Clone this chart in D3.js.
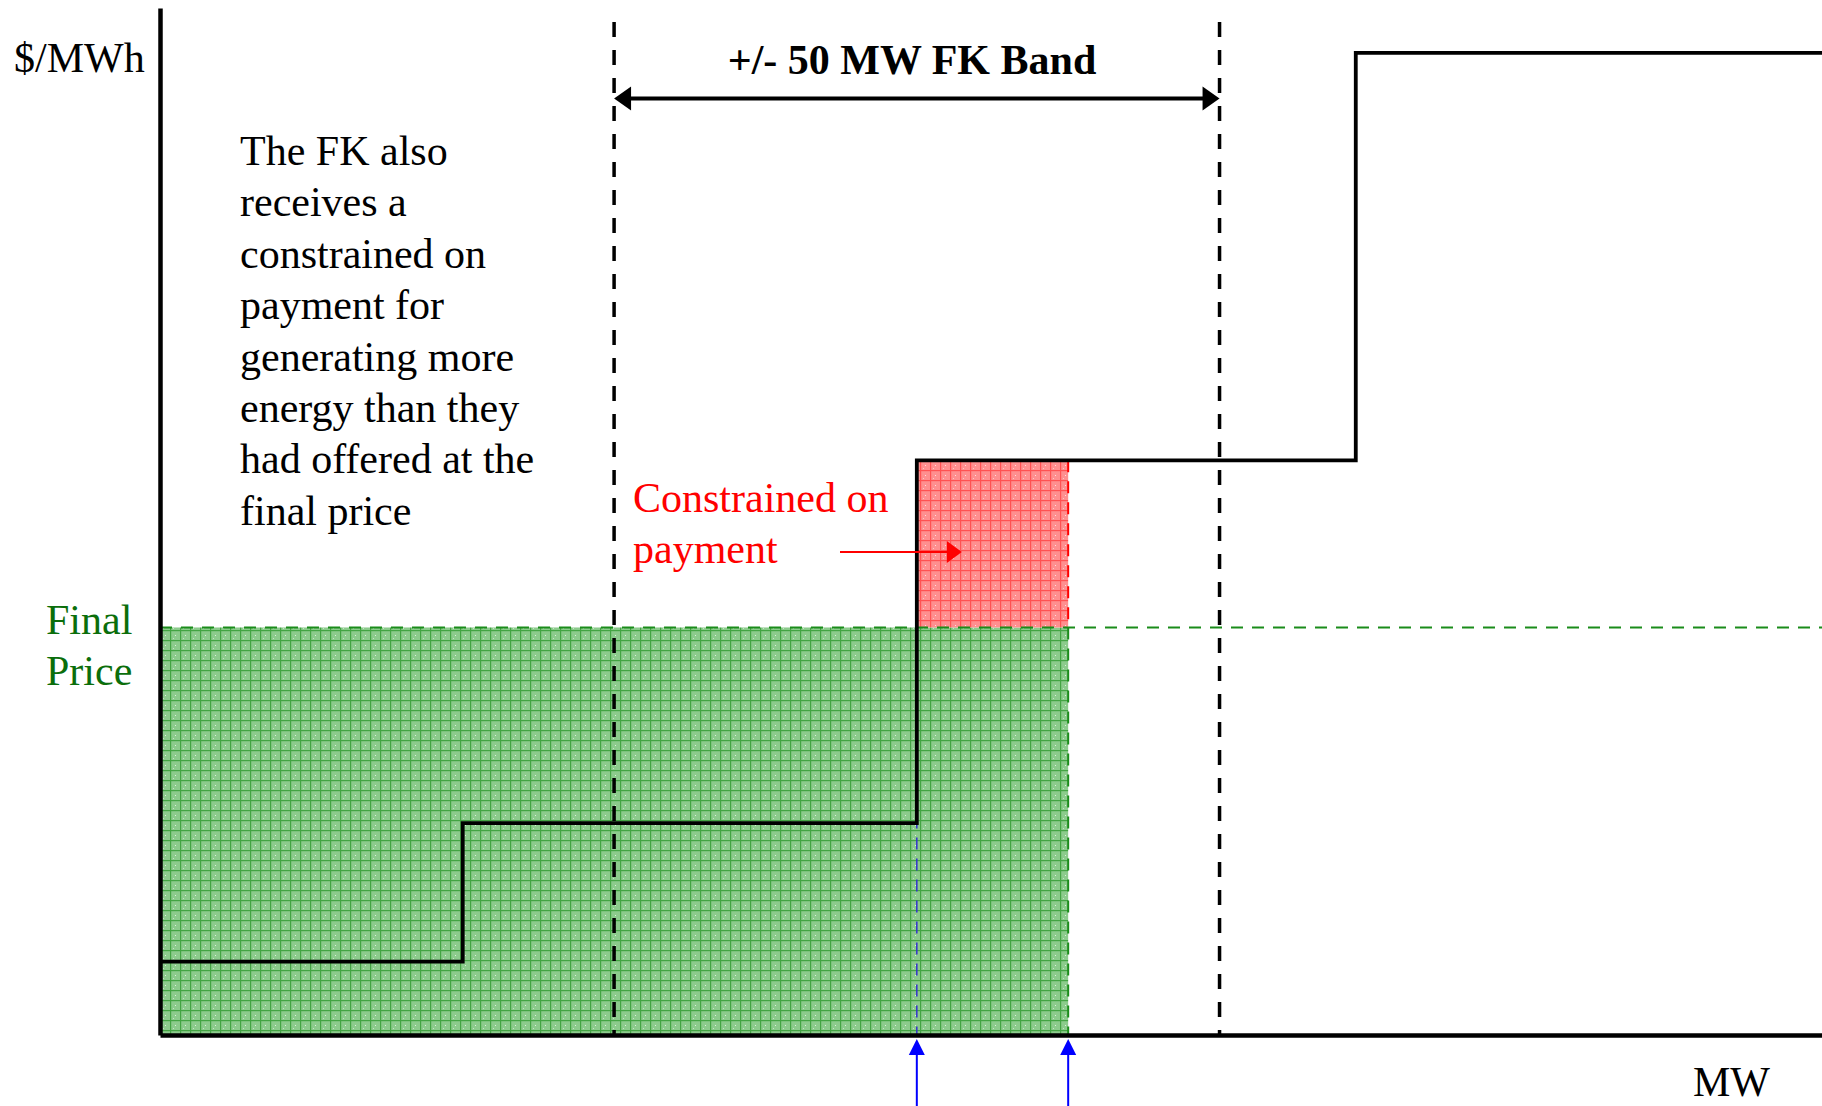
<!DOCTYPE html>
<html>
<head>
<meta charset="utf-8">
<script src="https://cdn.jsdelivr.net/npm/d3@7"></script>
<style>
  html, body { margin: 0; padding: 0; background: #fff; }
  svg { display: block; }
  text { font-family: "Liberation Serif", "Times New Roman", serif; }
</style>
</head>
<body>
<svg></svg>
<script>
// offer curve: breakpoints (MW) and price of each step ($/MWh)
const stepMW = [0, 50, 125, 197.5, 275];
const stepPrice = [9, 26, 70.5, 120.5];
const finalPrice = 50;
const offeredMW = 125;
const dispatchedMW = 150;
const bandMW = [75, 175];
const noteLines = ["The FK also", "receives a", "constrained on", "payment for",
    "generating more", "energy than they", "had offered at the", "final price"];
const redLines = ["Constrained on", "payment"];
const priceLines = ["Final", "Price"];

const W = 1822, H = 1106;
const svg = d3.select("svg")
    .attr("width", W)
    .attr("height", H);

const x = d3.scaleLinear().domain([0, 275]).range([160, 1825]);
const y = d3.scaleLinear().domain([0, 126]).range([1035, 8]);

const defs = svg.append("defs");

function gridPattern(id, base, line) {
    const p = defs.append("pattern")
        .attr("id", id)
        .attr("patternUnits", "userSpaceOnUse")
        .attr("width", 10).attr("height", 10);
    p.append("rect").attr("width", 10).attr("height", 10).attr("fill", base);
    p.append("rect").attr("x", 0).attr("y", 0).attr("width", 1.2).attr("height", 10).attr("fill", line);
    p.append("rect").attr("x", 0).attr("y", 0).attr("width", 10).attr("height", 1.2).attr("fill", line);
    p.append("rect").attr("x", 5).attr("y", 5).attr("width", 1).attr("height", 1).attr("fill", "#fff").attr("opacity", 0.7);
    p.append("rect").attr("x", 3).attr("y", 8).attr("width", 1).attr("height", 1).attr("fill", "#fff").attr("opacity", 0.5);
}
gridPattern("greenGrid", "#8ccb8c", "#43a443");
gridPattern("redGrid", "#ff8f8f", "#ff5252");

// shaded areas
svg.append("rect")
    .attr("x", x(0)).attr("y", y(finalPrice))
    .attr("width", x(dispatchedMW) - x(0))
    .attr("height", y(0) - y(finalPrice))
    .attr("fill", "url(#greenGrid)");

svg.append("rect")
    .attr("x", x(offeredMW)).attr("y", y(stepPrice[2]))
    .attr("width", x(dispatchedMW) - x(offeredMW))
    .attr("height", y(finalPrice) - y(stepPrice[2]))
    .attr("fill", "url(#redGrid)");

// final price line
svg.append("line")
    .attr("x1", x(0)).attr("x2", W)
    .attr("y1", y(finalPrice)).attr("y2", y(finalPrice))
    .attr("stroke", "#1a8c1a").attr("stroke-width", 2)
    .attr("stroke-dasharray", "12,9");

// right edges of the areas
svg.append("line")
    .attr("x1", x(dispatchedMW)).attr("x2", x(dispatchedMW))
    .attr("y1", y(stepPrice[2])).attr("y2", y(finalPrice))
    .attr("stroke", "#ff0000").attr("stroke-width", 2)
    .attr("stroke-dasharray", "12,9");
svg.append("line")
    .attr("x1", x(dispatchedMW)).attr("x2", x(dispatchedMW))
    .attr("y1", y(finalPrice)).attr("y2", y(0))
    .attr("stroke", "#1a8c1a").attr("stroke-width", 2)
    .attr("stroke-dasharray", "12,9");

// blue dashed drop line at offered quantity
svg.append("line")
    .attr("x1", x(offeredMW)).attr("x2", x(offeredMW))
    .attr("y1", y(finalPrice)).attr("y2", y(0))
    .attr("stroke", "#3333cc").attr("stroke-width", 1.5)
    .attr("stroke-dasharray", "12,9");

// band limits
svg.selectAll(".band")
    .data(bandMW)
    .enter()
    .append("line")
    .attr("class", "band")
    .attr("x1", d => x(d)).attr("x2", d => x(d))
    .attr("y1", 22).attr("y2", y(0))
    .attr("stroke", "#000").attr("stroke-width", 3.5)
    .attr("stroke-dasharray", "15,13");

// offer curve
const pts = stepPrice.map((p, i) => [stepMW[i], p]);
pts.push([stepMW[stepMW.length - 1], stepPrice[stepPrice.length - 1]]);
svg.append("path")
    .datum(pts)
    .attr("fill", "none")
    .attr("stroke", "#000")
    .attr("stroke-width", 3.8)
    .attr("d", d3.line().x(d => x(d[0])).y(d => y(d[1])).curve(d3.curveStepAfter));

// axes
svg.append("g")
    .attr("transform", `translate(0,${y(0)})`)
    .call(d3.axisBottom(x).tickValues([]).tickSizeOuter(0))
    .select(".domain").attr("stroke-width", 4.5);
svg.append("g")
    .attr("transform", `translate(${x(0)},0)`)
    .call(d3.axisLeft(y).tickValues([]).tickSizeOuter(0))
    .select(".domain").attr("stroke-width", 4.5);

// band double arrow
const ay = 98.5;
const bx0 = x(bandMW[0]), bx1 = x(bandMW[1]);
svg.append("line")
    .attr("x1", bx0 + 10).attr("x2", bx1 - 10)
    .attr("y1", ay).attr("y2", ay)
    .attr("stroke", "#000").attr("stroke-width", 4);
svg.append("path")
    .attr("d", `M${bx0},${ay} L${bx0 + 17},${ay - 12} L${bx0 + 17},${ay + 12} Z`)
    .attr("fill", "#000");
svg.append("path")
    .attr("d", `M${bx1},${ay} L${bx1 - 17},${ay - 12} L${bx1 - 17},${ay + 12} Z`)
    .attr("fill", "#000");

// blue arrows up to the x axis
svg.selectAll(".qArrow")
    .data([offeredMW, dispatchedMW])
    .enter()
    .append("g")
    .attr("class", "qArrow")
    .each(function(d) {
        const g = d3.select(this);
        const tipY = y(0) + 4;
        g.append("line")
            .attr("x1", x(d)).attr("x2", x(d))
            .attr("y1", tipY + 10).attr("y2", H)
            .attr("stroke", "#0000ff").attr("stroke-width", 2);
        g.append("path")
            .attr("d", `M${x(d)},${tipY} L${x(d) - 8},${tipY + 16} L${x(d) + 8},${tipY + 16} Z`)
            .attr("fill", "#0000ff");
    });

// red arrow into the constrained-on area
const ry = 552;
svg.append("line")
    .attr("x1", 840).attr("x2", x(offeredMW) + 35)
    .attr("y1", ry).attr("y2", ry)
    .attr("stroke", "#ff0000").attr("stroke-width", 2);
svg.append("path")
    .attr("d", `M${x(offeredMW) + 45},${ry} L${x(offeredMW) + 30},${ry - 11} L${x(offeredMW) + 30},${ry + 11} Z`)
    .attr("fill", "#ff0000");

// texts
svg.append("text")
    .attr("x", 14).attr("y", 72)
    .attr("font-size", 42)
    .text("$/MWh");

svg.append("text")
    .attr("x", 912).attr("y", 74)
    .attr("text-anchor", "middle")
    .attr("font-size", 42)
    .attr("font-weight", "bold")
    .text("+/- 50 MW FK Band");

svg.append("g")
    .selectAll("text")
    .data(noteLines)
    .enter()
    .append("text")
    .attr("x", 240)
    .attr("y", (d, i) => 165 + i * 51.4)
    .attr("font-size", 42)
    .text(d => d);

svg.append("g")
    .selectAll("text")
    .data(redLines)
    .enter()
    .append("text")
    .attr("x", 633)
    .attr("y", (d, i) => 512 + i * 51.4)
    .attr("font-size", 42)
    .attr("fill", "#ff0000")
    .text(d => d);

svg.append("g")
    .selectAll("text")
    .data(priceLines)
    .enter()
    .append("text")
    .attr("x", 46)
    .attr("y", (d, i) => 634 + i * 51.4)
    .attr("font-size", 42)
    .attr("fill", "#0b6e0b")
    .text(d => d);

svg.append("text")
    .attr("x", 1693).attr("y", 1096)
    .attr("font-size", 42)
    .text("MW");
</script>
</body>
</html>
